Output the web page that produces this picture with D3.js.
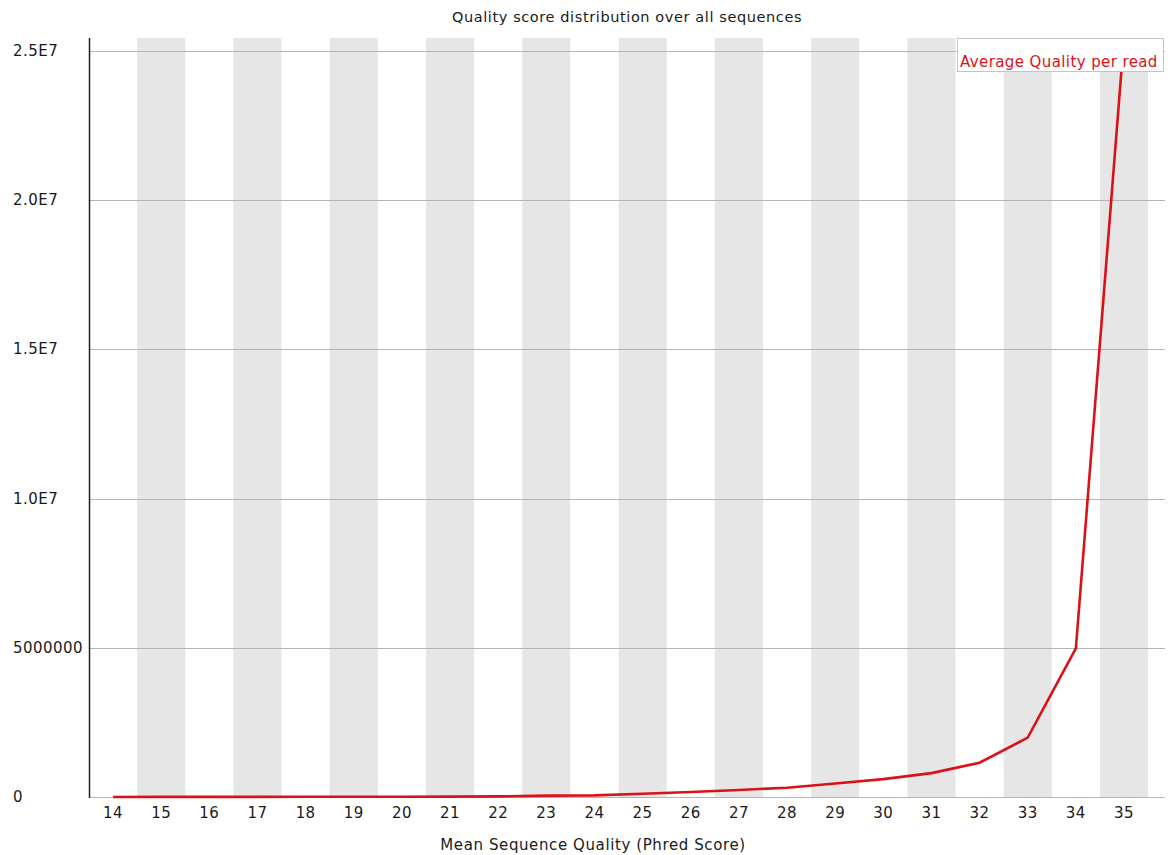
<!DOCTYPE html>
<html>
<head>
<meta charset="utf-8">
<script src="https://cdn.jsdelivr.net/npm/d3@7"></script>
<style>
  html, body { margin: 0; padding: 0; background: #fff; }
  svg { display: block; font-family: "DejaVu Sans", sans-serif; }
</style>
</head>
<body>
<svg id="chart" width="1173" height="855"></svg>
<script>
// Per-read mean quality (Phred) and number of reads with that mean
const qualities = [14, 15, 16, 17, 18, 19, 20, 21, 22, 23, 24, 25, 26, 27, 28, 29, 30, 31, 32, 33, 34, 35];
const readCounts = [2000, 3000, 4000, 5000, 6000, 8000, 10000, 14000, 20000, 45000, 55000, 110000,
                    170000, 235000, 310000, 450000, 600000, 800000, 1150000, 1990000, 4980000, 25430000];
const yTickValues = [0, 5000000, 10000000, 15000000, 20000000, 25000000];
const yTickLabels = ["0", "5000000", "1.0E7", "1.5E7", "2.0E7", "2.5E7"];
const seriesName = "Average Quality per read";
const chartTitle = "Quality score distribution over all sequences";
const xTitle = "Mean Sequence Quality (Phred Score)";

const svg = d3.select("#chart");
const plot = { left: 89, right: 1165, top: 38, bottom: 797 };
const step = 48.14;
const textColor = "#1a1a1a";
const lineColor = "#da1218";

const x = d3.scaleBand()
  .domain(qualities)
  .range([plot.left, plot.left + step * qualities.length])
  .padding(0);

const y = d3.scaleLinear()
  .domain([0, d3.max(readCounts)])
  .range([plot.bottom, plot.top]);

// alternating background bands
svg.append("g")
  .selectAll("rect")
  .data(qualities.filter((d, i) => i % 2 === 1))
  .join("rect")
  .attr("x", d => x(d))
  .attr("y", plot.top)
  .attr("width", x.bandwidth())
  .attr("height", plot.bottom - plot.top)
  .attr("fill", "#e6e6e6");

// horizontal grid lines
svg.append("g")
  .selectAll("line")
  .data(yTickValues)
  .join("line")
  .attr("x1", plot.left)
  .attr("x2", plot.right)
  .attr("y1", d => Math.round(y(d)) + 0.5)
  .attr("y2", d => Math.round(y(d)) + 0.5)
  .attr("stroke", "#b4b4b4")
  .attr("stroke-width", 1);

// y axis line
svg.append("line")
  .attr("x1", plot.left + 0.5).attr("x2", plot.left + 0.5)
  .attr("y1", plot.top).attr("y2", plot.bottom + 1)
  .attr("stroke", "#222")
  .attr("stroke-width", 1.5);

// y tick labels (left aligned)
svg.append("g")
  .selectAll("text")
  .data(yTickValues)
  .join("text")
  .attr("x", 13)
  .attr("y", d => y(d) + 5)
  .attr("font-size", 15)
  .attr("letter-spacing", 0.45)
  .attr("fill", textColor)
  .text((d, i) => yTickLabels[i]);

// x tick labels
const xAxis = d3.axisBottom(x).tickSize(0).tickPadding(0);
const gx = svg.append("g")
  .attr("transform", `translate(0,${plot.bottom})`)
  .call(xAxis);
gx.select(".domain").remove();
gx.selectAll("text")
  .attr("y", 21)
  .attr("dy", 0)
  .attr("font-size", 15)
  .attr("letter-spacing", 0.45)
  .attr("font-family", "DejaVu Sans, sans-serif")
  .attr("fill", textColor);

// data line
const line = d3.line()
  .x(d => x(d[0]) + x.bandwidth() / 2)
  .y(d => y(d[1]));

svg.append("path")
  .datum(qualities.map((q, i) => [q, readCounts[i]]))
  .attr("d", line)
  .attr("fill", "none")
  .attr("stroke", lineColor)
  .attr("stroke-width", 2.6)
  .attr("stroke-linejoin", "miter");

// titles
svg.append("text")
  .attr("x", (plot.left + plot.right) / 2)
  .attr("y", 22)
  .attr("text-anchor", "middle")
  .attr("font-size", 14.5)
  .attr("letter-spacing", 0.6)
  .attr("fill", textColor)
  .text(chartTitle);

svg.append("text")
  .attr("x", 593)
  .attr("y", 850)
  .attr("text-anchor", "middle")
  .attr("font-size", 15)
  .attr("letter-spacing", 0.6)
  .attr("fill", textColor)
  .text(xTitle);

// legend
const legend = svg.append("g");
legend.append("rect")
  .attr("x", 957.5).attr("y", 38.5)
  .attr("width", 206).attr("height", 33)
  .attr("fill", "#fff")
  .attr("stroke", "#c4c4c4");
legend.append("text")
  .attr("x", 960)
  .attr("y", 67)
  .attr("font-size", 15)
  .attr("letter-spacing", 0.4)
  .attr("fill", lineColor)
  .text(seriesName);
</script>
</body>
</html>
